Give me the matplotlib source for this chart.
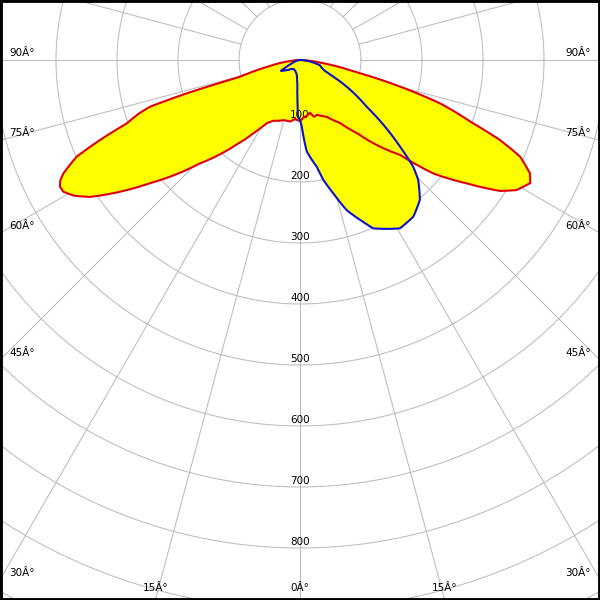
import numpy as np
import matplotlib
matplotlib.use('Agg')
import matplotlib.pyplot as plt

# intensity distribution, gamma measured from straight down (degrees)
# red plane, left half (C180) and right half (C0)
red_left_gamma = [0, 5, 9, 15, 20, 24, 27.8, 32.5, 37.6, 44.1, 50.6, 54.5, 56.9, 59, 60.9, 62.2,
                  63.3, 64.4, 66.6, 68.2, 69.9, 71.5, 72.7, 73.6, 74.4, 76.5, 78.7, 85, 90]
red_left_cd = [100, 97, 102, 102, 106, 109, 117, 142, 179, 236, 318, 376, 411, 432, 444, 445,
               440, 430, 399, 353, 302, 280, 258, 194, 102, 75, 50, 12, 0]
red_right_gamma = [0, 3, 7, 10.7, 14, 17.2, 25.3, 32.4, 38, 41.3, 46.5, 49.6, 53.5, 56.8, 59,
                   61.9, 63.8, 66.3, 68.2, 69.9, 72.8, 75.1, 77.5, 78.4, 82, 86, 90]
red_right_cd = [100, 95, 92, 88, 96, 94, 103, 122, 152, 181, 226, 287, 340, 392, 414,
                428, 420, 394, 353, 302, 240, 170, 101, 84, 40, 12, 0]

# blue plane, left half (C270) and right half (C90)
blue_left_gamma = [0, 2, 3.6, 6, 10, 14, 25, 37, 45, 52, 57, 60.3, 62, 66, 72, 80, 90]
blue_left_cd = [98, 93, 66, 40, 28, 23, 19, 18, 21, 27, 32, 36, 28, 18, 10, 4, 0]
blue_right_gamma = [0, 1.5, 4.2, 8.9, 11, 14, 17.3, 20.6, 23.5, 30.7, 35.9, 40.6, 44.6, 46.7,
                    49.1, 55, 63.4, 66, 70, 75, 80, 85, 90]
blue_right_cd = [98, 109, 150, 177, 200, 225, 258, 280, 301, 321, 317, 302, 276, 255,
                 217, 133, 61, 45, 38, 34, 20, 8, 0]

rings = [100, 200, 300, 400, 500, 600, 700, 800, 900, 1000]
ring_labels = ['100', '200', '300', '400', '500', '600', '700', '800']
side_angles = [90, 75, 60, 45, 30]
bottom_angles = [-15, 0, 15]

px = 0.61  # pixels per cd unit
xmax = 300 / px
ybot = -540 / px
ytop = 60 / px


def half(g, cd, sign):
    # draw the curve in polar form: sample gamma finely between the read points
    gg = np.linspace(0, max(g), 721)
    rr = np.interp(gg, g, cd)
    return sign * rr * np.sin(np.radians(gg)), -rr * np.cos(np.radians(gg))


def outline(lg, lc, rg, rc):
    xl, yl = half(lg, lc, -1)
    xr, yr = half(rg, rc, 1)
    return np.concatenate([xl[::-1], xr]), np.concatenate([yl[::-1], yr])


fig = plt.figure(figsize=(6, 6), dpi=100)
ax = fig.add_axes([0, 0, 1, 1])
ax.set_xlim(-xmax, xmax)
ax.set_ylim(ybot, ytop)
ax.set_xticks([])
ax.set_yticks([])
for sp in ax.spines.values():
    sp.set_color('black')
    sp.set_linewidth(3.5)

grid_c = '#bcbcbc'
t = np.linspace(0, 2 * np.pi, 721)
for r in rings:
    ax.plot(r * np.cos(t), r * np.sin(t), color=grid_c, lw=0.75, zorder=1)
for a in range(0, 360, 15):
    s, c = np.sin(np.radians(a)), np.cos(np.radians(a))
    ax.plot([100 * s, 1400 * s], [-100 * c, -1400 * c], color=grid_c, lw=0.75, zorder=1)

rx, ry = outline(red_left_gamma, red_left_cd, red_right_gamma, red_right_cd)
bx, by = outline(blue_left_gamma, blue_left_cd, blue_right_gamma, blue_right_cd)
ax.fill(rx, ry, color='#ffff00', lw=0, zorder=2)
ax.fill(bx, by, color='#ffff00', lw=0, zorder=2)

fs = 7.5
for r, lab in zip(rings, ring_labels):
    ax.text(0, -r + 6 / px, lab, ha='center', va='center', fontsize=fs, zorder=3)

for a in side_angles:
    yy = -xmax / np.tan(np.radians(a)) if a != 90 else 0
    yy += 7 / px
    ax.text(-xmax + 9 / px, yy, f'{a}Â°', ha='left', va='center', fontsize=fs, zorder=3)
    ax.text(xmax - 9 / px, yy, f'{a}Â°', ha='right', va='center', fontsize=fs, zorder=3)
for a in bottom_angles:
    xx = -ybot * np.tan(np.radians(a))
    ax.text(xx, ybot + 12 / px, f'{abs(a)}Â°', ha='center', va='center', fontsize=fs, zorder=3)

ax.plot(rx, ry, color='#e00000', lw=1.5, zorder=4)
ax.plot(bx, by, color='#0a14c8', lw=1.5, zorder=5)

fig.savefig('out.png', dpi=100)
